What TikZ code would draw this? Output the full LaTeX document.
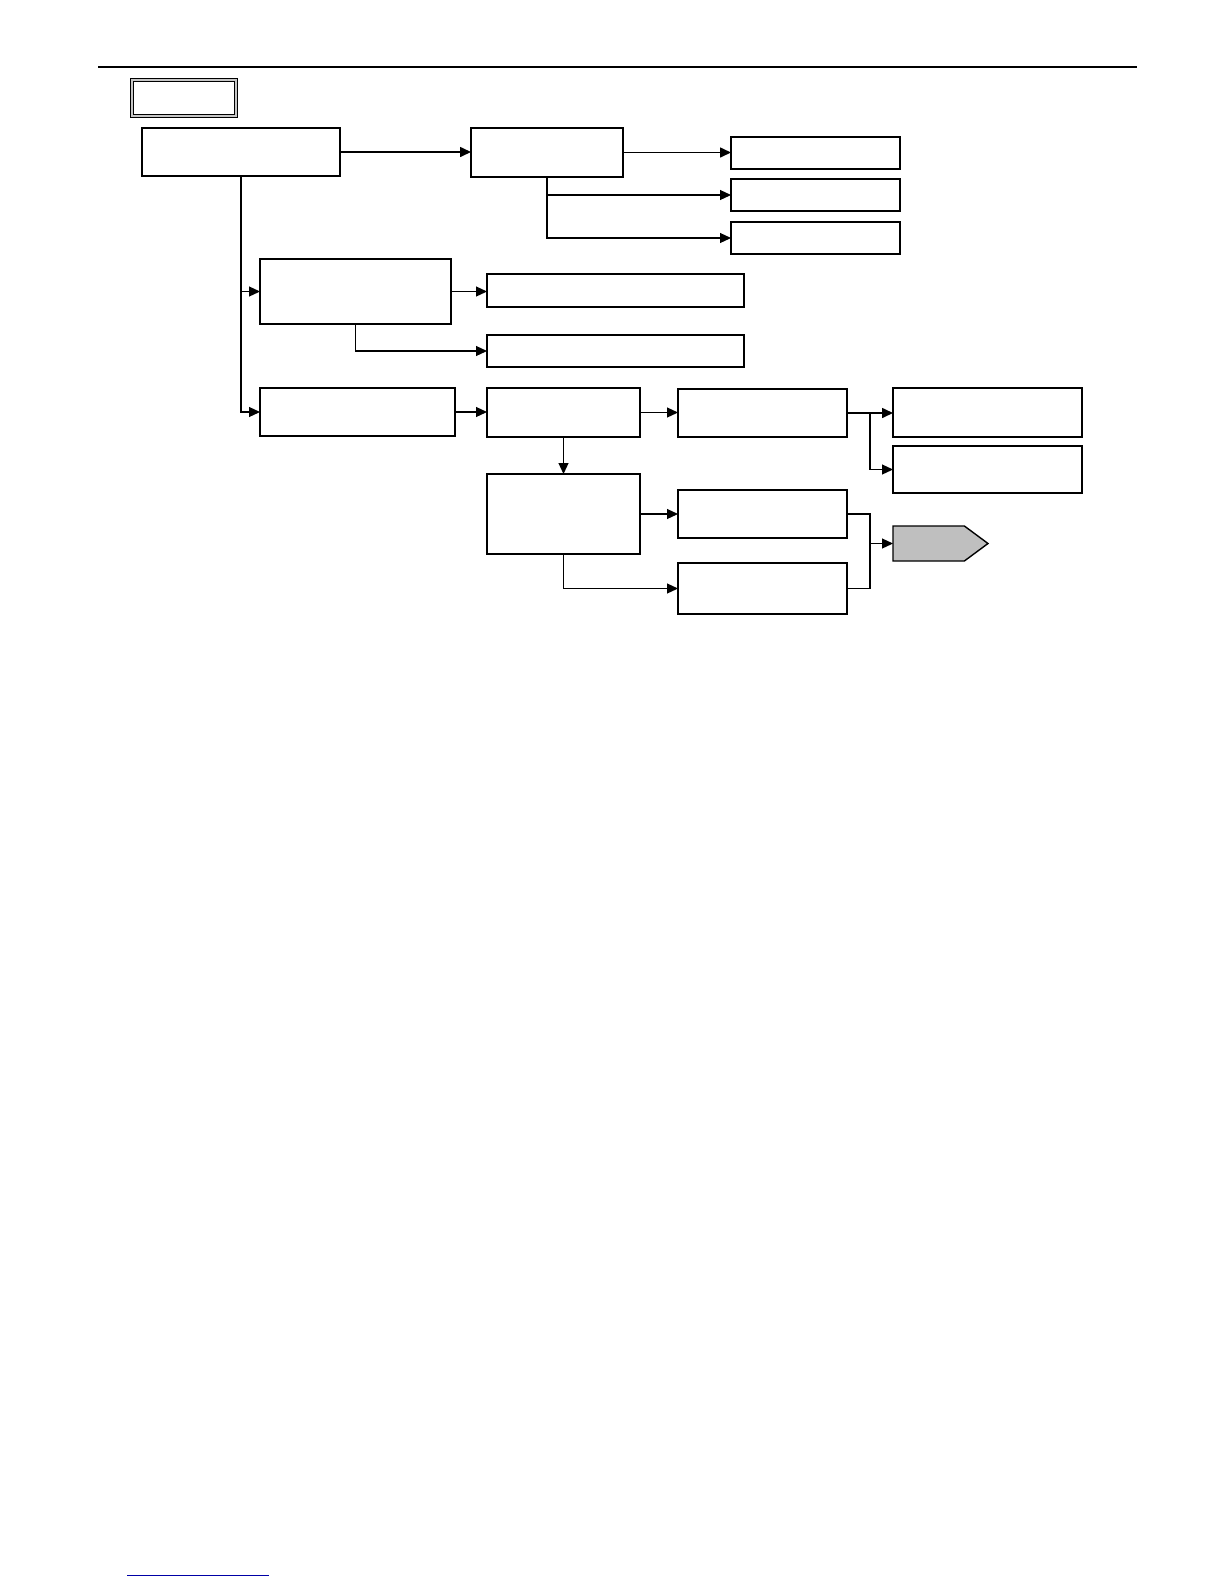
\documentclass[tikz,border=0pt]{standalone}
\usetikzlibrary{arrows.meta,shapes.symbols}
\tikzset{
  bx/.style={draw=black, rectangle, inner sep=0pt, outer sep=0pt, fill=white},
  thinbox/.style={bx, line width=0.6pt},
  midbox/.style={bx, line width=0.85pt},
  thickbox/.style={bx, line width=1.15pt},
  conn/.style={draw=black, line width=0.6pt},
  arr/.style={conn, -{Triangle[length=5.5bp,width=5bp]}},
  thickarr/.style={arr, line width=0.8pt},
  rule/.style={draw=black, line width=0.55pt},
}
\newcommand\pbox[6]{\node[#1, minimum width={(#5-#3)*0.5bp}, minimum height={(#6-#4)*0.5bp}] (#2) at ({(#3+#5)/2},{(#4+#6)/2}) {};}
\begin{document}
\begin{tikzpicture}[x=0.5bp,y=-0.5bp]
\useasboundingbox[fill=white] (0,0) rectangle (1224,1584);
% header rule
\coordinate (rl) at (98,67);
\coordinate (rr) at (1137,67);
\draw[rule] (rl) -- (rr);
% title box
\node[draw=black, line width=0.6bp, double=gray!45, double distance=1bp, rectangle, inner sep=0pt,
      minimum width={(236-132)*0.5bp}, minimum height={(116-80)*0.5bp}] (title) at (184,98) {};
% boxes
\pbox{thinbox}{A}{142}{128}{340}{176}
\pbox{thickbox}{B}{471}{128}{623}{177}
\pbox{thickbox}{C1}{731}{137}{900}{169}
\pbox{midbox}{C2}{731}{179}{900}{211}
\pbox{thinbox}{C3}{731}{222}{900}{254}
\pbox{thickbox}{D}{260}{259}{451}{324}
\pbox{thickbox}{E1}{487}{274}{744}{307}
\pbox{thinbox}{E2}{487}{335}{744}{367}
\pbox{midbox}{F}{260}{388}{455}{436}
\pbox{thickbox}{G}{487}{388}{640}{437}
\pbox{thickbox}{H}{678}{389}{847}{437}
\pbox{midbox}{I1}{893}{388}{1082}{437}
\pbox{thickbox}{I2}{893}{446}{1082}{493}
\pbox{thinbox}{J}{487}{474}{640}{554}
\pbox{thickbox}{K1}{678}{490}{847}{538}
\pbox{thickbox}{K2}{678}{563}{847}{614}
\node[signal, signal to=east, signal pointer angle=73, draw=black, line width=0.7pt, fill=black!25,
      inner sep=0pt, outer sep=0pt, minimum width={(988-893)*0.5bp}, minimum height={(561-526)*0.5bp},
      anchor=west] (L) at (893,543.5) {};
% connectors
\draw[thickarr] (A.east) -- (A.east -| B.west);
\draw[thickarr] (B.east) -- (B.east -| C1.west);
\draw[arr] (B.south) |- (C2.west);
\draw[arr] (B.south) |- (C3.west);
\draw[arr] (A.south) |- (D.west);
\draw[arr] (A.south) |- (F.west);
\draw[arr] (D.east) -- (D.east -| E1.west);
\draw[arr] (D.south) |- (E2.west);
\draw[arr] (F.east) -- (F.east -| G.west);
\draw[arr] (G.east) -- (G.east -| H.west);
\coordinate (hb) at (870,412.7);
\draw[thickarr] (H.east) -- (H.east -| I1.west);
\draw[arr] (hb) |- (I2.west);
\draw[arr] (G.south) -- (J.north);
\draw[arr] (J.east) -- (J.east -| K1.west);
\draw[arr] (J.south) |- (K2.west);
\coordinate (kb) at (870,543.5);
\draw[conn] (K1.east) -| (kb);
\draw[conn] (K2.east) -| (kb);
\draw[arr] (kb) -- (L.west);
% footer line
\coordinate (fl) at (127,1575);
\coordinate (fr) at (269,1575);
\draw[draw=blue!65!black, line width=0.5bp] (fl) -- (fr);
\end{tikzpicture}
\end{document}
